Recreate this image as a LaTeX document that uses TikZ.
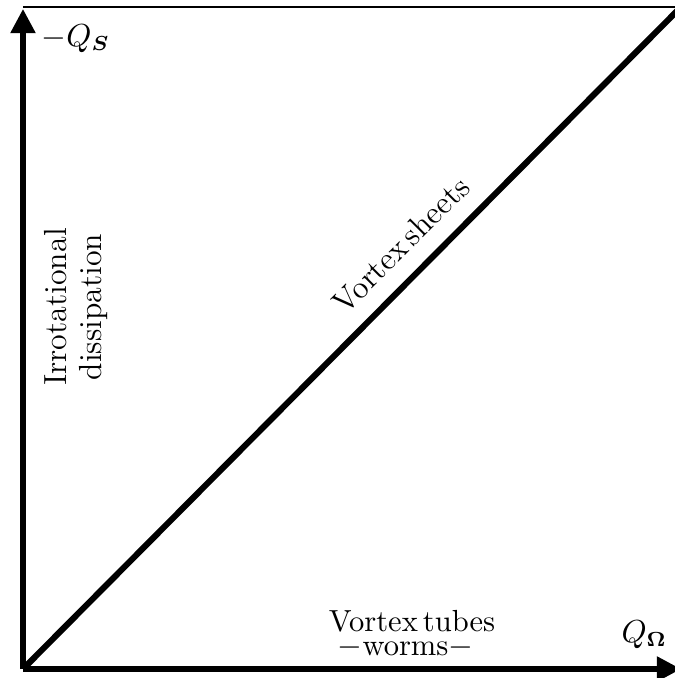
\documentclass[tikz,border=0pt]{standalone}
\usepackage{amsmath,bm}
\usetikzlibrary{arrows.meta}
\begin{document}
\begin{tikzpicture}[x=0.344pt,y=-0.344pt,
  axis/.style={line width=1.75pt,-{Triangle[length=8.3pt,width=8.3pt]}},
  diag/.style={line width=2.1pt},
  frame/.style={line width=0.75pt},
  lbl/.style={inner sep=0pt,font=\fontsize{10.5}{12.2}\selectfont},
  biglbl/.style={inner sep=0pt,font=\fontsize{11}{12.2}\selectfont}]
\useasboundingbox (0,0) rectangle (675,678);
\coordinate (O) at (23,669);
\coordinate (Ytop) at (23,9);
\coordinate (Xend) at (681,669);
\coordinate (TL) at (23,7);
\coordinate (TR) at (680,7);
\coordinate (D) at (680,8);
\draw[frame] (TL) -- (TR);
\draw[diag] (O) -- (D);
\draw[axis] (O) -- (Ytop);
\draw[axis] (O) -- (Xend);
\node[lbl,anchor=base west] (qs) at (41,46) {$-Q_{\bm{S}}$};
\node[lbl,anchor=base west] (qo) at (621,642) {$Q_{\mathbf{\Omega}}$};
\node[lbl,anchor=base] (vt) at (412,631) {Vortex\,tubes};
\node[lbl,anchor=base] (wo) at (405.5,655) {$-$worms$-$};
\node[biglbl,rotate=90,align=center] (ir) at (76,307) {Irrotational\\dissipation};
\node[biglbl,rotate=45] (vs) at (401,245) {Vortex\,sheets};
\end{tikzpicture}
\end{document}
